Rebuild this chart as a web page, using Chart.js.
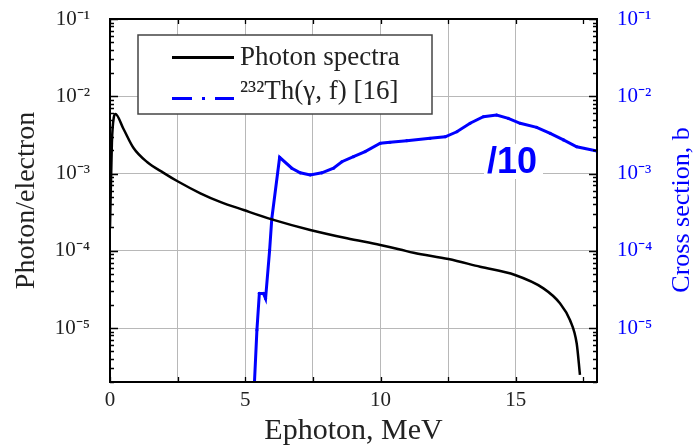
<!DOCTYPE html>
<html>
<head>
<meta charset="utf-8">
<script src="https://cdn.jsdelivr.net/npm/chart.js@4.4.1/dist/chart.umd.min.js"></script>
<style>
  body { margin: 0; background: #fff; }
  #wrap { width: 694px; height: 446px; }
</style>
</head>
<body>
<div id="wrap"><canvas id="spectrumChart" width="694" height="446"></canvas></div>
<script>
// photon spectrum (left axis)
const photonE = [0, 0.07, 0.14, 0.2, 0.5, 0.87, 1.37, 1.98, 2.48, 3.34, 4.07, 4.94, 5.98, 7.4, 8.76, 9.99, 10.72, 11.22, 12.51, 13.68, 14.97, 16.02, 16.63, 17.0, 17.25, 17.37];
const photonY = [2.0e-4, 2.5e-3, 5.3e-3, 5.9e-3, 3.77e-3, 2.14e-3, 1.41e-3, 1.02e-3, 8.0e-4, 5.55e-4, 4.3e-4, 3.37e-4, 2.55e-4, 1.86e-4, 1.45e-4, 1.19e-4, 1.04e-4, 9.4e-5, 7.8e-5, 6.2e-5, 4.85e-5, 3.26e-5, 2.09e-5, 1.27e-5, 6.3e-6, 2.47e-6];

// 232Th(g,f) cross section /10 (right axis)
const crossE = [5.34, 5.43, 5.52, 5.67, 5.75, 5.90, 5.98, 6.27, 6.72, 7.03, 7.40, 7.83, 8.26, 8.57, 9.0, 9.43, 9.99, 10.35, 10.97, 11.83, 12.39, 12.82, 13.31, 13.80, 14.29, 14.72, 15.16, 15.77, 16.27, 16.76, 17.25, 18.0];
const crossY = [2.0e-6, 9.4e-6, 2.8e-5, 2.8e-5, 2.4e-5, 1.02e-4, 2.6e-4, 1.62e-3, 1.17e-3, 1.02e-3, 9.6e-4, 1.02e-3, 1.17e-3, 1.42e-3, 1.65e-3, 1.92e-3, 2.46e-3, 2.54e-3, 2.66e-3, 2.85e-3, 2.99e-3, 3.47e-3, 4.47e-3, 5.43e-3, 5.72e-3, 5.18e-3, 4.47e-3, 3.96e-3, 3.31e-3, 2.72e-3, 2.22e-3, 1.95e-3];

const seriesLabels = ['Photon spectra', '²³²Th(γ, f) [16]'];
const xTickLabels = [0, 5, 10, 15];
const xMin = 0, xMax = 18;
const yMin = 2e-6, yMax = 0.1;

const serif = "'Liberation Serif', 'Times New Roman', serif";
const blue = '#0000ff';

const supMap = { '-': '⁻', '0': '⁰', '1': '¹', '2': '²', '3': '³', '4': '⁴', '5': '⁵', '6': '⁶', '7': '⁷', '8': '⁸', '9': '⁹' };
function isDecade(v) {
  const e = Math.log10(v);
  return Math.abs(e - Math.round(e)) < 1e-6;
}
function decadeLabel(v) {
  if (!isDecade(v)) return '';
  return '10' + String(Math.round(Math.log10(v))).split('').map(c => supMap[c]).join('');
}
function fitY(width) {
  return s => {
    s.width = width;
    s.paddingTop = 0;
    s.paddingBottom = 0;
  };
}

// frame + inward ticks like the original plot
const framePlugin = {
  id: 'frame',
  afterDraw(chart) {
    const { ctx, chartArea: a, scales } = chart;
    ctx.save();
    ctx.strokeStyle = '#000';
    ctx.lineWidth = 1.3;
    ctx.beginPath();
    for (let e = xMin; e <= xMax; e += 2.5) {
      const px = Math.round(scales.x.getPixelForValue(e)) + 0.5;
      ctx.moveTo(px, a.bottom); ctx.lineTo(px, a.bottom - 5);
      ctx.moveTo(px, a.top); ctx.lineTo(px, a.top + 5);
    }
    for (let p = -6; p <= -1; p++) {
      for (let k = 1; k <= 9; k++) {
        const v = k * Math.pow(10, p);
        if (v < yMin * 0.999 || v > yMax * 1.001) continue;
        const py = Math.round(scales.y.getPixelForValue(v)) + 0.5;
        const len = k === 1 ? 8 : 4;
        ctx.moveTo(a.left, py); ctx.lineTo(a.left + len, py);
        ctx.moveTo(a.right, py); ctx.lineTo(a.right - len, py);
      }
    }
    ctx.stroke();
    ctx.lineWidth = 2;
    ctx.strokeRect(a.left, a.top, a.right - a.left, a.bottom - a.top);

    // right axis title, reading bottom to top
    ctx.fillStyle = blue;
    ctx.font = '26px ' + serif;
    ctx.textAlign = 'center';
    ctx.textBaseline = 'middle';
    ctx.translate(682, 210);
    ctx.rotate(-Math.PI / 2);
    ctx.fillText('Cross section, b', 0, 0);
    ctx.restore();
  }
};

// "/10" note with white patch over the grid
const notePlugin = {
  id: 'note',
  beforeDatasetsDraw(chart) {
    const { ctx } = chart;
    ctx.save();
    ctx.fillStyle = '#fff';
    ctx.fillRect(484, 144, 59, 35);
    ctx.fillStyle = blue;
    ctx.font = "bold 36px 'Liberation Sans', Arial, sans-serif";
    ctx.textAlign = 'left';
    ctx.textBaseline = 'alphabetic';
    ctx.fillText('/10', 487, 173);
    ctx.restore();
  }
};

// boxed legend inside the plot
const boxLegend = {
  id: 'boxLegend',
  afterDatasetsDraw(chart) {
    const { ctx } = chart;
    ctx.save();
    ctx.fillStyle = '#fff';
    ctx.fillRect(138, 35, 294, 79);
    ctx.strokeStyle = '#444';
    ctx.lineWidth = 1.5;
    ctx.strokeRect(138, 35, 294, 79);

    ctx.fillStyle = '#000';
    ctx.fillRect(172, 56, 62, 3);
    ctx.fillStyle = blue;
    ctx.fillRect(172, 97, 20, 3);
    ctx.fillRect(202, 97, 3, 3);
    ctx.fillRect(215, 97, 19, 3);

    ctx.fillStyle = '#222';
    ctx.font = '27px ' + serif;
    ctx.textAlign = 'left';
    ctx.textBaseline = 'alphabetic';
    ctx.fillText(chart.data.datasets[0].label, 240, 65);
    ctx.fillText(chart.data.datasets[1].label, 240, 99);
    ctx.restore();
  }
};

const ctx = document.getElementById('spectrumChart').getContext('2d');
const chart = new Chart(ctx, {
  type: 'line',
  data: {
    datasets: [{
      label: seriesLabels[0],
      data: photonE.map((e, i) => ({ x: e, y: photonY[i] })),
      yAxisID: 'y',
      borderColor: '#000',
      borderWidth: 2.5,
      pointRadius: 0,
      cubicInterpolationMode: 'monotone',
      fill: false
    }, {
      label: seriesLabels[1],
      data: crossE.map((e, i) => ({ x: e, y: crossY[i] })),
      yAxisID: 'y2',
      borderColor: blue,
      backgroundColor: blue,
      borderWidth: 3,
      pointRadius: 1.6,
      pointBorderWidth: 0,
      fill: false
    }]
  },
  options: {
    responsive: false,
    animation: false,
    layout: { padding: { top: 19 } },
    plugins: {
      legend: { display: false },
      tooltip: { enabled: false }
    },
    scales: {
      x: {
        type: 'linear',
        min: xMin,
        max: xMax,
        afterFit: s => { s.height = 64; s.paddingLeft = 0; s.paddingRight = 0; },
        ticks: {
          stepSize: 2.5,
          autoSkip: false,
          maxRotation: 0,
          padding: 6,
          color: '#222',
          font: { family: serif, size: 21 },
          callback: v => xTickLabels.includes(v) ? String(v) : ''
        },
        grid: { color: '#b8b8b8', lineWidth: 1, drawTicks: false },
        border: { display: true, color: '#000', width: 2 },
        title: {
          display: true,
          text: 'Ephoton, MeV',
          color: '#222',
          font: { family: serif, size: 30, lineHeight: 1 },
          padding: { top: 0, bottom: 0 }
        }
      },
      y: {
        type: 'logarithmic',
        position: 'left',
        min: yMin,
        max: yMax,
        afterFit: fitY(110),
        ticks: {
          autoSkip: false,
          padding: 20,
          color: '#222',
          font: { family: serif, size: 21 },
          callback: v => decadeLabel(v)
        },
        grid: {
          drawTicks: false,
          lineWidth: 1,
          color: c => (c.tick && isDecade(c.tick.value)) ? '#b8b8b8' : 'rgba(0,0,0,0)'
        },
        border: { display: true, color: '#000', width: 2 },
        title: {
          display: true,
          text: 'Photon/electron',
          color: '#222',
          font: { family: serif, size: 28, lineHeight: 1 },
          padding: { top: 13, bottom: 0 }
        }
      },
      y2: {
        type: 'logarithmic',
        position: 'right',
        min: yMin,
        max: yMax,
        afterFit: fitY(97),
        ticks: {
          autoSkip: false,
          padding: 20,
          color: blue,
          font: { family: serif, size: 21 },
          callback: v => decadeLabel(v)
        },
        grid: { drawOnChartArea: false, drawTicks: false },
        border: { display: true, color: '#000', width: 2 }
      }
    }
  },
  plugins: [notePlugin, boxLegend, framePlugin]
});
</script>
</body>
</html>
